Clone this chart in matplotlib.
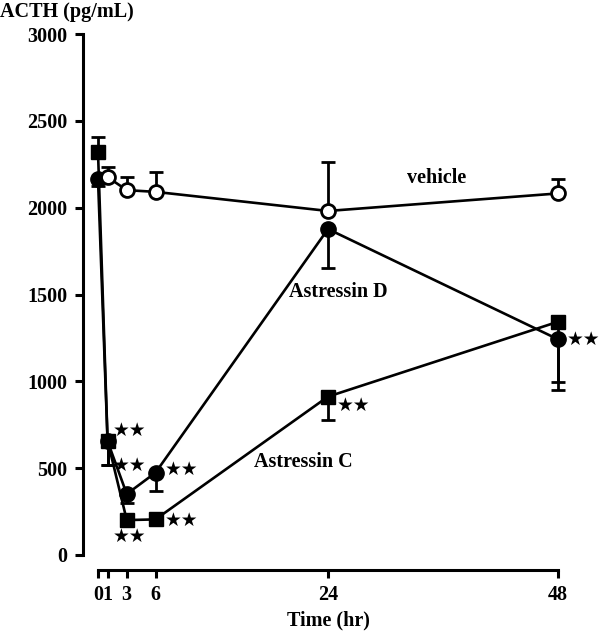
import numpy as np
import matplotlib
matplotlib.use('Agg')
import matplotlib.pyplot as plt

# Data (ACTH, pg/mL)
vehicle_t = [1, 3, 6, 24, 48]
vehicle_y = [2176, 2101, 2091, 1981, 2082]
vehicle_err_up = [60, 77, 116, 284, 81]

astD_t = [0, 1, 3, 6, 24, 48]
astD_y = [2165, 655, 351, 474, 1877, 1242]
astD_err_down = [40, 135, 50, 104, 226, 292]

astC_t = [0, 1, 3, 6, 24, 48]
astC_y = [2322, 658, 201, 205, 912, 1343]
astC_err_up = [87, 0, 0, 0, 0, 0]
astC_err_down = [0, 140, 0, 0, 135, 345]

# significance marks (time, value)
star_t = [3.3, 3.3, 3.3, 8.7, 8.7, 26.7, 50.7]
star_y = [720, 518, 105, 495, 197, 864, 1243]

x_ticks = [0, 1, 3, 6, 24, 48]
y_ticks = [0, 500, 1000, 1500, 2000, 2500, 3000]

# Style
serif = ['Liberation Serif', 'DejaVu Serif']
fs = 14.5
lw = 1.9
plt.rcParams['font.family'] = serif
plt.rcParams['font.weight'] = 'bold'

fig = plt.figure(figsize=(6, 6.32), dpi=100)
ax = fig.add_axes([83 / 600, 1 - 570 / 632, (570 - 83) / 600, (570 - 34) / 632])

px_per_hr = (558 - 98) / 48
ax.set_xlim(-15 / px_per_hr, 48 + 12 / px_per_hr)
ax.set_ylim(-15 * 3000 / 521, 3000)

# Astressin D (filled circles)
ax.errorbar(astD_t, astD_y, yerr=[astD_err_down, [0] * len(astD_t)], color='black', lw=lw,
            marker='o', ms=11, mfc='black', mec='black', capsize=5, capthick=2, elinewidth=2,
            zorder=3)
# Astressin C (filled squares)
ax.errorbar(astC_t, astC_y, yerr=[astC_err_down, astC_err_up], color='black', lw=lw,
            marker='s', ms=10.5, mfc='black', mec='black', capsize=5, capthick=2, elinewidth=2,
            zorder=3)
# vehicle (open circles)
ax.errorbar(vehicle_t, vehicle_y, yerr=[[0] * len(vehicle_t), vehicle_err_up], color='black',
            lw=lw, marker='o', ms=10, mfc='white', mec='black', mew=2, capsize=5, capthick=2,
            elinewidth=2, zorder=4)

for t, y in zip(star_t, star_y):
    ax.text(t, y, '★★', ha='center', va='center', fontsize=13.5,
            family=['DejaVu Sans'], clip_on=False)

ax.text(35.3, 2168, 'vehicle', ha='center', va='center', fontsize=fs, fontweight='bold')
ax.text(25.1, 1516, 'Astressin D', ha='center', va='center', fontsize=fs, fontweight='bold')
ax.text(21.4, 537, 'Astressin C', ha='center', va='center', fontsize=fs, fontweight='bold')

# Axes styling: detached spines
for side in ['top', 'right']:
    ax.spines[side].set_visible(False)
ax.spines['left'].set_bounds(0, 3000)
ax.spines['bottom'].set_bounds(0, 48)
ax.spines['left'].set_linewidth(2.2)
ax.spines['bottom'].set_linewidth(2.2)

ax.set_xticks(x_ticks)
ax.set_xticklabels([str(t) for t in x_ticks])
ax.set_yticks(y_ticks)
ax.tick_params(axis='both', direction='out', length=6, width=2.2, labelsize=fs, pad=5)
for lab in ax.get_xticklabels() + ax.get_yticklabels():
    lab.set_fontweight('bold')

fig.text(0.0, 1 - 12 / 632, 'ACTH (pg/mL)', ha='left', va='center', fontsize=fs, fontweight='bold')
fig.text(328 / 600, 1 - 620 / 632, 'Time (hr)', ha='center', va='center', fontsize=fs,
         fontweight='bold')

fig.savefig('out.png', dpi=100)
